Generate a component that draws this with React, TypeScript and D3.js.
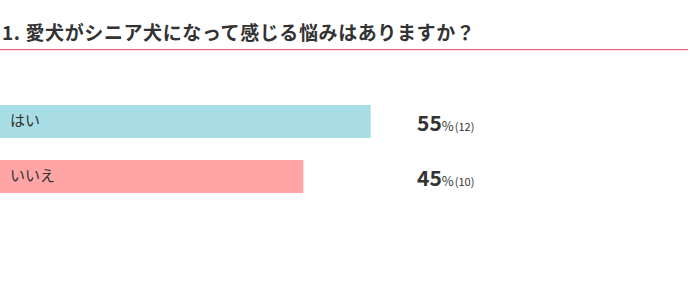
import React, { useEffect, useRef } from 'react';
import * as d3 from 'd3';

const title = '1. 愛犬がシニア犬になって感じる悩みはありますか？';
const categories = ['はい', 'いいえ'];
const percents = [55, 45];
const counts = [12, 10];
const colors = ['#a9dde6', '#ffa5a5'];

const App = () => {
  const svgRef = useRef<SVGSVGElement | null>(null);

  const width = 698;
  const height = 297;

  useEffect(() => {
    if (!svgRef.current) return;
    const svg = d3.select(svgRef.current);
    svg.selectAll('*').remove();

    const font = '"Noto Sans CJK JP", "Noto Sans", sans-serif';

    // Title
    svg.append('text')
      .attr('x', 2)
      .attr('y', 40)
      .attr('font-family', font)
      .attr('font-size', 19)
      .attr('font-weight', 'bold')
      .attr('letter-spacing', 0.6)
      .attr('fill', '#333')
      .text(title);

    // underline of the title
    svg.append('rect')
      .attr('x', 0)
      .attr('y', 49)
      .attr('width', 688)
      .attr('height', 1.2)
      .attr('fill', '#ec5f75');

    const x = d3.scaleLinear().domain([0, 100]).range([0, 674]);
    const y = d3.scaleBand<string>()
      .domain(categories)
      .range([105, 193])
      .paddingInner(0.4)
      .paddingOuter(0);

    const rows = svg.selectAll('.row')
      .data(categories)
      .enter()
      .append('g')
      .attr('class', 'row');

    rows.append('rect')
      .attr('x', 0)
      .attr('y', d => y(d)!)
      .attr('width', (d, i) => x(percents[i]))
      .attr('height', y.bandwidth())
      .attr('fill', (d, i) => colors[i]);

    rows.append('text')
      .attr('x', 10)
      .attr('y', d => y(d)! + 21)
      .attr('font-family', font)
      .attr('font-size', 15)
      .attr('fill', '#333')
      .text(d => d);

    const val = rows.append('text')
      .attr('x', 417)
      .attr('y', d => y(d)! + 26)
      .attr('font-family', font)
      .attr('fill', '#333');

    val.append('tspan')
      .attr('font-size', 21)
      .attr('font-weight', 'bold')
      .text((d, i) => String(percents[i]));
    val.append('tspan')
      .attr('font-size', 13)
      .text('%');
    val.append('tspan')
      .attr('font-size', 11)
      .attr('dx', 1)
      .text((d, i) => `(${counts[i]})`);
  }, []);

  return (
    <svg ref={svgRef} width={width} height={height}
      style={{ position: 'absolute', left: 0, top: 0, background: '#fff' }} />
  );
};

export default App;
